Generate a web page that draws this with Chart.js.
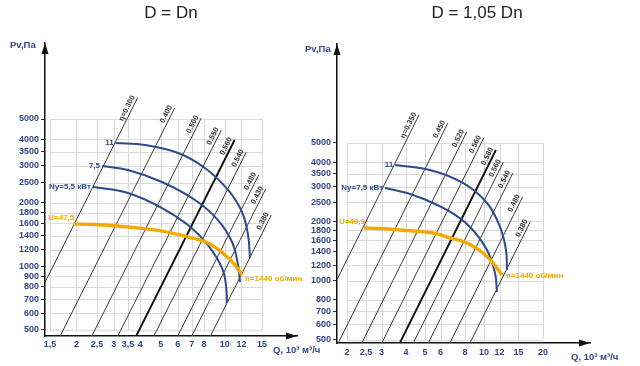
<!DOCTYPE html>
<html>
<head>
<meta charset="utf-8">
<script src="https://cdn.jsdelivr.net/npm/chart.js@4.4.1/dist/chart.umd.min.js"></script>
<style>
body{margin:0;background:#fff;}
#wrap{position:relative;width:640px;height:366px;overflow:hidden;font-family:"Liberation Sans Narrow","Liberation Sans",sans-serif;}
canvas{position:absolute;top:0;}
.t{position:absolute;top:3px;width:140px;text-align:center;font-size:17px;color:#222;white-space:nowrap;}
.ax{position:absolute;font-size:9.5px;font-weight:bold;color:#34468a;white-space:nowrap;line-height:11px;}
</style>
</head>
<body>
<div id="wrap">
<canvas id="c1" width="320" height="366" style="left:0"></canvas>
<canvas id="c2" width="344" height="366" style="left:296px"></canvas>
<div class="t" style="left:101px">D = Dn</div>
<div class="t" style="left:407px">D = 1,05 Dn</div>
<div class="ax" style="left:10px;top:39px">Pv,Па</div>
<div class="ax" style="left:305px;top:43px">Pv,Па</div>
<div class="ax" style="left:273px;top:344px">Q, 10³ м³/ч</div>
<div class="ax" style="left:571px;top:351px">Q, 10³ м³/ч</div>
</div>
<script>
// --- D = Dn ---
var xTicks1 = [1.5, 2, 2.5, 3, 3.5, 4, 5, 6, 7, 8, 10, 12, 15];
var yTicks1 = [500, 600, 700, 800, 900, 1000, 1200, 1400, 1600, 1800, 2000, 2500, 3000, 3500, 4000, 5000];
var etaLabels1 = ['η=0.300', '0.400', '0.500', '0.550', '0.560', '0.540', '0.480', '0.430', '0.380'];
var etaQBot1 = [1.045, 1.651, 2.33, 3.09, 3.77, 4.57, 5.92, 6.90, 8.45];   // при 455 Па
var etaQTop1 = [3.88, 5.81, 7.75, 9.65, 11.14, 12.66, 14.47, 15.61, 16.6];
var etaPTop1 = [6290, 5640, 5050, 4435, 3975, 3490, 2715, 2330, 1755];
var n11Q1 = [3.06, 4.21, 6.03, 8.07, 10.37, 12.07, 12.89, 13.17];
var n11P1 = [3850, 3765, 3450, 2930, 2305, 1812, 1409, 1097];
var n75Q1 = [2.64, 3.50, 5.06, 7.25, 9.30, 10.83, 11.56, 11.81];
var n75P1 = [2995, 2865, 2515, 2066, 1660, 1306, 1016, 844];
var n55Q1 = [2.39, 3.50, 5.06, 6.72, 8.34, 9.72, 10.15, 10.26];
var n55P1 = [2380, 2230, 1893, 1571, 1264, 983, 810, 671];
var uQ1 = [1.93, 2.45, 3.50, 5.06, 6.72, 8.34, 10.04, 11.19, 12.07];
var uP1 = [1589, 1580, 1538, 1472, 1379, 1292, 1133, 1016, 911];

// --- D = 1,05 Dn ---
var xTicks2 = [2, 2.5, 3, 4, 5, 6, 8, 10, 12, 15, 20];
var yTicks2 = [500, 600, 700, 800, 1000, 1200, 1400, 1600, 1800, 2000, 2500, 3000, 3500, 4000, 5000];
var etaLabels2 = ['η=0.350', '0.450', '0.520', '0.560', '0.580', '0.560', '0.540', '0.480', '0.380'];
var etaQBot2 = [1.21, 1.78, 2.35, 2.97, 3.67, 4.30, 5.13, 6.61, 8.37];   // при 470 Па
var etaQTop2 = [4.66, 6.54, 8.16, 9.96, 11.50, 12.57, 14.04, 15.73, 17.20];
var etaPTop2 = [6935, 6315, 5685, 5300, 4605, 4005, 3520, 2660, 1986];
var n11Q2 = [3.52, 5.30, 7.81, 10.36, 12.07, 12.95, 13.10];
var n11P2 = [3866, 3647, 3133, 2480, 1874, 1432, 1133];
var n75Q2 = [3.13, 4.34, 6.47, 8.48, 10.36, 11.38, 11.65];
var n75P2 = [2955, 2722, 2285, 1874, 1432, 1094, 876];
var uQ2 = [2.44, 2.95, 3.73, 5.49, 6.47, 8.19, 9.88, 11.12, 12.35];
var uP2 = [1851, 1840, 1809, 1746, 1666, 1554, 1382, 1229, 1069];

var BLUE = '#2c4a8c', ORANGE = '#f2a900', TXT = '#34468a';
var FONT = '"Liberation Sans Narrow", "Liberation Sans", sans-serif';

function curve(q, p, color, width, lbls) {
  var pts = [];
  for (var i = 0; i < q.length; i++) pts.push({x: q[i], y: p[i]});
  return {data: pts, borderColor: color, borderWidth: width, pointRadius: 0, tension: 0.4, fill: false, lbls: lbls};
}

function decor(gx, gy) {
  return {
    id: 'decor',
    beforeDatasetsDraw: function (chart) {
      var x = chart.scales.x, y = chart.scales.y, ctx = chart.ctx;
      var xa = x.getPixelForValue(gx[0]), xb = x.getPixelForValue(gx[gx.length - 1]);
      var ya = y.getPixelForValue(gy[0]), yb = y.getPixelForValue(gy[gy.length - 1]);
      ctx.save();
      ctx.strokeStyle = '#dadada';
      ctx.lineWidth = 1;
      ctx.beginPath();
      gx.forEach(function (v) {
        var px = Math.round(x.getPixelForValue(v)) + 0.5;
        ctx.moveTo(px, ya); ctx.lineTo(px, yb);
      });
      gy.forEach(function (v) {
        var py = Math.round(y.getPixelForValue(v)) + 0.5;
        ctx.moveTo(xa, py); ctx.lineTo(xb, py);
      });
      ctx.stroke();
      ctx.restore();
    },
    afterDatasetsDraw: function (chart) {
      var ctx = chart.ctx;
      ctx.save();
      chart.data.datasets.forEach(function (ds, i) {
        var pts = chart.getDatasetMeta(i).data;
        if (ds.eta) {
          var a = pts[0], b = pts[1];
          ctx.save();
          ctx.translate(b.x, b.y);
          ctx.rotate(Math.atan2(b.y - a.y, b.x - a.x));
          ctx.font = 'bold 7.5px ' + FONT;
          ctx.fillStyle = '#333';
          ctx.textAlign = 'right';
          ctx.textBaseline = 'bottom';
          ctx.fillText(ds.eta, 0, -1);
          ctx.restore();
        }
        (ds.lbls || []).forEach(function (l) {
          var pt = l.at === 'end' ? pts[pts.length - 1] : pts[0];
          ctx.font = 'bold 8px ' + FONT;
          ctx.fillStyle = l.color;
          ctx.textAlign = l.align;
          ctx.textBaseline = 'middle';
          ctx.fillText(l.text, pt.x + l.dx, pt.y + l.dy);
        });
      });
      ctx.restore();
    },
    afterDraw: function (chart) {
      var ca = chart.chartArea, ctx = chart.ctx;
      ctx.save();
      ctx.fillStyle = '#111';
      ctx.beginPath();
      ctx.moveTo(ca.left, ca.top);
      ctx.lineTo(ca.left - 3.5, ca.top + 11);
      ctx.lineTo(ca.left + 3.5, ca.top + 11);
      ctx.closePath();
      ctx.moveTo(ca.right, ca.bottom);
      ctx.lineTo(ca.right - 11, ca.bottom - 3.5);
      ctx.lineTo(ca.right - 11, ca.bottom + 3.5);
      ctx.closePath();
      ctx.fill();
      ctx.restore();
    }
  };
}

function panel(id, p) {
  var ds = [];
  ds.push(curve(p.uQ, p.uP, ORANGE, 3.4, [
    {text: p.uText, at: 'start', dx: 1, dy: -6, align: 'right', color: ORANGE},
    {text: 'n=1440 об/мин', at: 'end', dx: p.nDx, dy: p.nDy, align: 'left', color: ORANGE}
  ]));
  p.kw.forEach(function (k) {
    ds.push(curve(k.q, k.p, BLUE, 2, [{text: k.text, at: 'start', dx: -2, dy: 0, align: 'right', color: BLUE}]));
  });
  for (var i = 0; i < p.etaLabels.length; i++) {
    var thick = i === p.thick;
    ds.push({
      data: [{x: p.qBot[i], y: p.pBot}, {x: p.qTop[i], y: p.pTop[i]}],
      borderColor: thick ? '#111' : '#3a3a3a',
      borderWidth: thick ? 1.9 : 1,
      pointRadius: 0, tension: 0, fill: false,
      eta: p.etaLabels[i]
    });
  }
  var tickFont = {family: FONT, size: 9, weight: 'bold'};
  new Chart(document.getElementById(id), {
    type: 'line',
    data: {datasets: ds},
    options: {
      responsive: false,
      animation: false,
      layout: {padding: {top: p.top, right: p.right, left: 0, bottom: 0}},
      plugins: {legend: {display: false}, tooltip: {enabled: false}},
      scales: {
        x: {
          type: 'logarithmic', min: p.xMin, max: p.xMax,
          grid: {display: false, drawTicks: false},
          border: {display: true, color: '#111', width: 1.5},
          ticks: {
            autoSkip: false, maxRotation: 0, padding: p.xPad, color: TXT, font: tickFont,
            callback: function (v) { return String(v).replace('.', ','); }
          },
          afterBuildTicks: function (s) { s.ticks = p.xTicks.map(function (v) { return {value: v}; }); },
          afterFit: function (s) { s.height = p.xH; }
        },
        y: {
          type: 'logarithmic', min: p.yMin, max: p.yMax,
          grid: {display: true, drawOnChartArea: false, drawTicks: true, tickLength: 4, color: '#333'},
          border: {display: true, color: '#111', width: 1.5},
          ticks: {
            autoSkip: false, padding: 2, color: TXT, font: tickFont,
            callback: function (v) { return String(v); }
          },
          afterBuildTicks: function (s) { s.ticks = p.yTicks.map(function (v) { return {value: v}; }); },
          afterFit: function (s) { s.width = p.yW; }
        }
      }
    },
    plugins: [decor(p.xTicks, p.yTicks)]
  });
}

panel('c1', {
  xTicks: xTicks1, yTicks: yTicks1, xMin: 1.4208, xMax: 21.94, yMin: 468.3, yMax: 11461,
  top: 43, right: 23, xH: 30, yW: 45, xPad: 3, thick: 4,
  etaLabels: etaLabels1, qBot: etaQBot1, pBot: 455, qTop: etaQTop1, pTop: etaPTop1,
  kw: [
    {q: n11Q1, p: n11P1, text: '11'},
    {q: n75Q1, p: n75P1, text: '7,5'},
    {q: n55Q1, p: n55P1, text: 'Ny=5,5 кВт'}
  ],
  uQ: uQ1, uP: uP1, uText: 'U=47,5', nDx: 3, nDy: 4
});

panel('c2', {
  xTicks: xTicks2, yTicks: yTicks2, xMin: 1.778, xMax: 34.75, yMin: 482.7, yMax: 15905,
  top: 44, right: 50, xH: 23, yW: 41, xPad: 4, thick: 4,
  etaLabels: etaLabels2, qBot: etaQBot2, pBot: 470, qTop: etaQTop2, pTop: etaPTop2,
  kw: [
    {q: n11Q2, p: n11P2, text: '11'},
    {q: n75Q2, p: n75P2, text: 'Ny=7,5 кВт'}
  ],
  uQ: uQ2, uP: uP2, uText: 'U=49,9', nDx: 4, nDy: 1
});
</script>
</body>
</html>
